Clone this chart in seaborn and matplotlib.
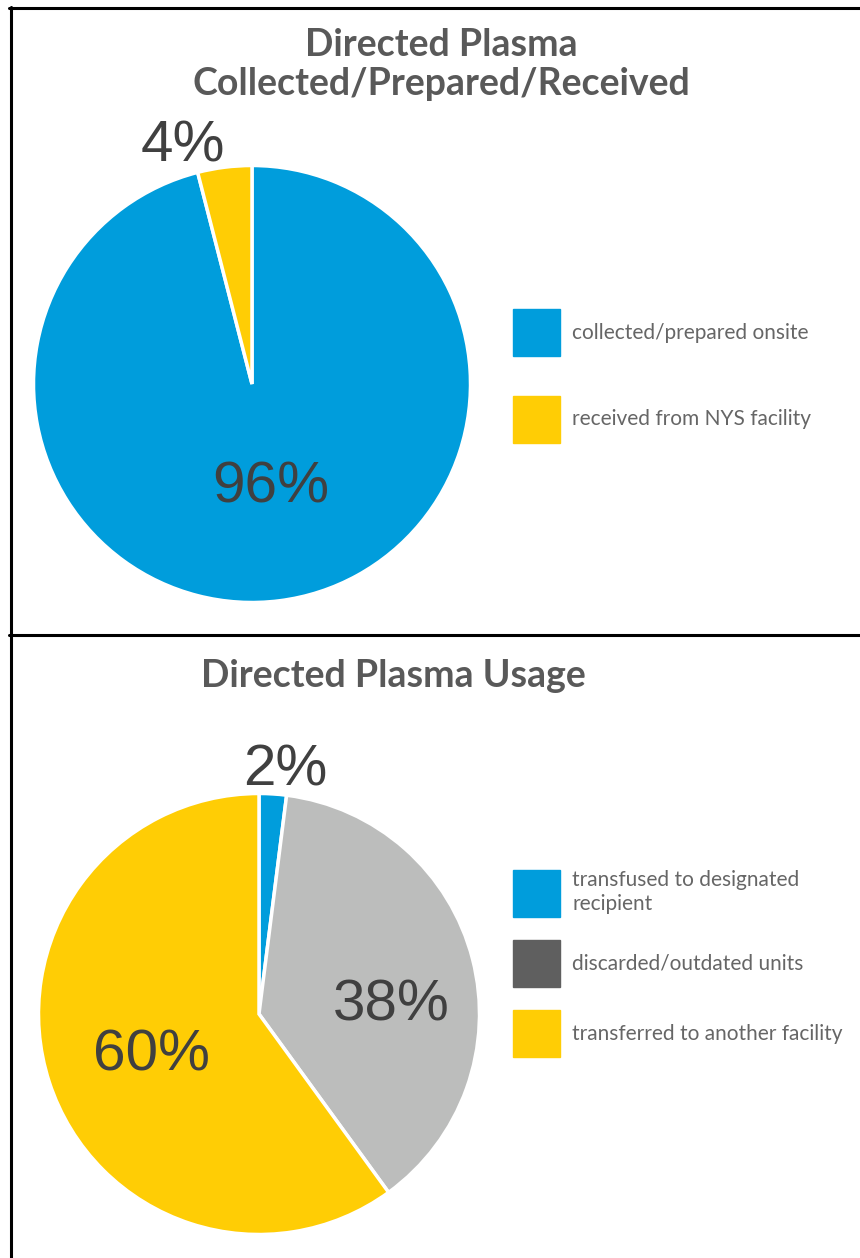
import numpy as np
import seaborn as sns
import matplotlib.pyplot as plt
import matplotlib.patches as mpatches
from matplotlib.lines import Line2D

# data
top_labels = ['collected/prepared onsite', 'received from NYS facility']
top_values = [96, 4]
top_colors = ['#009ddc', '#ffcd05']

bottom_labels = ['transfused to designated\nrecipient',
                 'discarded/outdated units',
                 'transferred to another facility']
bottom_values = [2, 38, 60]
bottom_colors = ['#009ddc', '#bcbdbc', '#ffcd05']
bottom_legend_colors = ['#009ddc', '#5f5f5f', '#ffcd05']

sns.set_style('white')
plt.rcParams['font.family'] = ['Lato', 'DejaVu Sans']

W, H = 860, 1258
fig = plt.figure(figsize=(W / 100, H / 100), dpi=100)


def px_axes(cx, cy, r):
    return fig.add_axes([(cx - r) / W, (H - cy - r) / H, 2 * r / W, 2 * r / H])


def draw_pie(ax, values, colors, label_pos):
    wedges, _ = ax.pie(values, colors=colors, startangle=90, counterclock=False,
                       wedgeprops=dict(edgecolor='white', linewidth=2.5))
    for w, v, (dist, nudge) in zip(wedges, values, label_pos):
        ang = np.deg2rad((w.theta1 + w.theta2) / 2 + nudge)
        ax.text(dist * np.cos(ang), dist * np.sin(ang), f'{v}%',
                ha='center', va='center', fontsize=42, color='#404040',
                family=['Liberation Sans', 'DejaVu Sans'])
    ax.set_xlim(-1, 1)
    ax.set_ylim(-1, 1)
    ax.set_aspect('equal')
    ax.axis('off')


def draw_legend(labels, colors, anchor, spacing):
    handles = [mpatches.Patch(color=c, label=l) for l, c in zip(labels, colors)]
    leg = fig.legend(handles=handles, loc='upper left',
                     bbox_to_anchor=(anchor[0] / W, 1 - anchor[1] / H),
                     frameon=False, fontsize=15, handlelength=2.26,
                     handleheight=3.09, handletextpad=0.58,
                     labelspacing=spacing, borderaxespad=0, borderpad=0)
    for t in leg.get_texts():
        t.set_color('#666666')
        t.set_linespacing(1.25)
    return leg


# top panel
ax1 = px_axes(252, 384, 218.5)
draw_pie(ax1, top_values, top_colors, [(0.48, 3), (1.13, 9)])
draw_legend(top_labels, top_colors, (513, 309), 1.92)
fig.text(441 / W, 1 - 45 / H, 'Directed Plasma', ha='center', va='center',
         fontsize=27, fontweight='bold', color='#595959')
fig.text(441 / W, 1 - 84 / H, 'Collected/Prepared/Received', ha='center',
         va='center', fontsize=27, fontweight='bold', color='#595959')

# bottom panel
ax2 = px_axes(259, 1014, 220.5)
draw_pie(ax2, bottom_values, bottom_colors,
         [(1.11, -2.5), (0.6, -10.5), (0.52, 3)])
draw_legend(bottom_labels, bottom_legend_colors, (513, 870), 1.1)
fig.text(393 / W, 1 - 676 / H, 'Directed Plasma Usage', ha='center',
         va='center', fontsize=27, fontweight='bold', color='#595959')

# panel borders
lw = 2.2
fig.add_artist(Line2D([10.5 / W, 10.5 / W], [0, 1 - 7 / H], color='black',
                      lw=lw, transform=fig.transFigure))
fig.add_artist(Line2D([9 / W, 1], [1 - 8 / H, 1 - 8 / H], color='black',
                      lw=lw, transform=fig.transFigure))
fig.add_artist(Line2D([9 / W, 1], [1 - 635 / H, 1 - 635 / H], color='black',
                      lw=lw, transform=fig.transFigure))

fig.savefig('out.png', dpi=100)
